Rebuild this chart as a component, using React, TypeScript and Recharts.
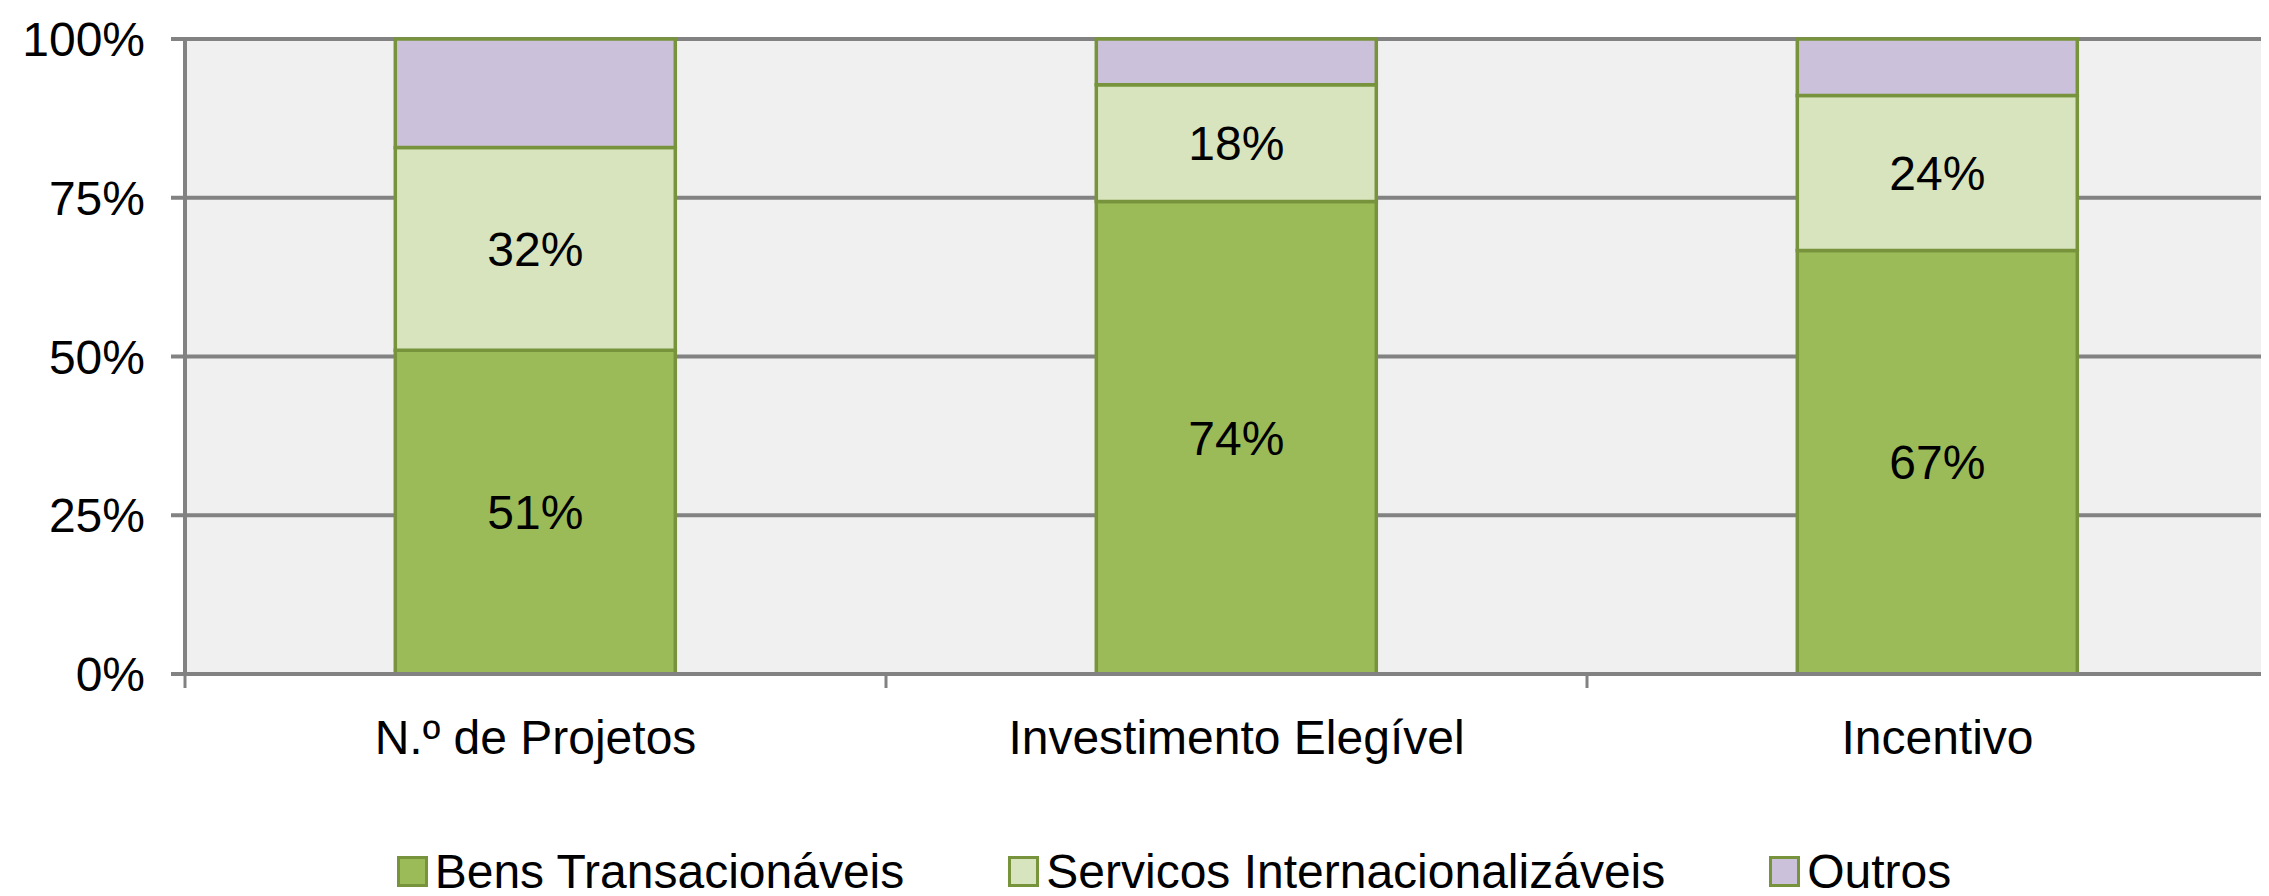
import { BarChart, Bar, XAxis, YAxis, CartesianGrid, Legend, LabelList } from 'recharts';

const categories = ['N.º de Projetos', 'Investimento Elegível', 'Incentivo'];
const bens = [51, 74.4, 66.7];
const servicos = [31.9, 18.4, 24.4];
const outros = [17.1, 7.2, 8.9];
const yTicks = [0, 25, 50, 75, 100];

const series = [
  { key: 'bens', name: 'Bens Transacionáveis', color: '#9bbb59', label: true },
  { key: 'servicos', name: 'Serviços Internacionalizáveis', color: '#d7e4bd', label: true },
  { key: 'outros', name: 'Outros', color: '#ccc1da', label: false },
];

const FONT = '"Liberation Sans", Arial, Helvetica, sans-serif';
const BORDER = '#77933c';
const GRID = '#828282';

const data = categories.map((c, i) => ({
  category: c,
  bens: bens[i],
  servicos: servicos[i],
  outros: outros[i],
}));

// excel-style category axis: tick marks sit on the category boundaries
const CategoryTick = (props: any) => {
  const { x, y, payload, width, visibleTicksCount } = props;
  const half = payload?.offset || width / (2 * (visibleTicksCount || categories.length));
  return (
    <g>
      <line x1={x - half} x2={x - half} y1={y} y2={y + 14} stroke={GRID} strokeWidth={3} />
      <text x={x} y={y + 80} textAnchor="middle" fontSize={48} fill="#000" fontFamily={FONT}>
        {payload.value}
      </text>
    </g>
  );
};

const LegendContent = () => (
  <div
    style={{
      display: 'flex',
      justifyContent: 'center',
      alignItems: 'center',
      height: 60,
      paddingLeft: 60,
      fontFamily: FONT,
      fontSize: 48,
      color: '#000',
    }}
  >
    {series.map((s, i) => (
      <div key={s.key} style={{ display: 'flex', alignItems: 'center', marginLeft: i === 0 ? 0 : 104 }}>
        <span
          style={{
            display: 'inline-block',
            width: 25,
            height: 25,
            background: s.color,
            border: `3px solid ${BORDER}`,
            marginRight: 7,
          }}
        />
        <span>{s.name}</span>
      </div>
    ))}
  </div>
);

export default function App() {
  return (
    <div style={{ margin: -8, width: 2269, height: 896, overflow: 'hidden', background: '#fff' }}>
      <BarChart
        width={2288}
        height={896}
        data={data}
        margin={{ top: 39, right: 0, left: 0, bottom: 62 }}
        barCategoryGap="30%"
      >
        <CartesianGrid vertical={false} fill="#f0f0f0" stroke={GRID} strokeWidth={4} />
        <XAxis
          dataKey="category"
          height={100}
          axisLine={{ stroke: GRID, strokeWidth: 4 }}
          tickLine={false}
          tickSize={0}
          tickMargin={0}
          interval={0}
          tick={<CategoryTick />}
        />
        <YAxis
          width={185}
          domain={[0, 100]}
          ticks={yTicks}
          tickFormatter={(v) => `${v}%`}
          axisLine={{ stroke: GRID, strokeWidth: 4 }}
          tickLine={{ stroke: GRID, strokeWidth: 4 }}
          tickSize={14}
          tickMargin={26}
          tick={{ fontSize: 48, fill: '#000', fontFamily: FONT }}
        />
        <Legend
          verticalAlign="bottom"
          height={60}
          content={<LegendContent />}
          wrapperStyle={{ bottom: -5 }}
        />
        {series.map((s) => (
          <Bar
            key={s.key}
            dataKey={s.key}
            name={s.name}
            stackId="a"
            fill={s.color}
            stroke={BORDER}
            strokeWidth={3.5}
            isAnimationActive={false}
          >
            {s.label && (
              <LabelList
                dataKey={s.key}
                position="center"
                formatter={(v: any) => `${Math.round(Number(v))}%`}
                fill="#000"
                fontSize={48}
                fontFamily={FONT}
              />
            )}
          </Bar>
        ))}
      </BarChart>
    </div>
  );
}
